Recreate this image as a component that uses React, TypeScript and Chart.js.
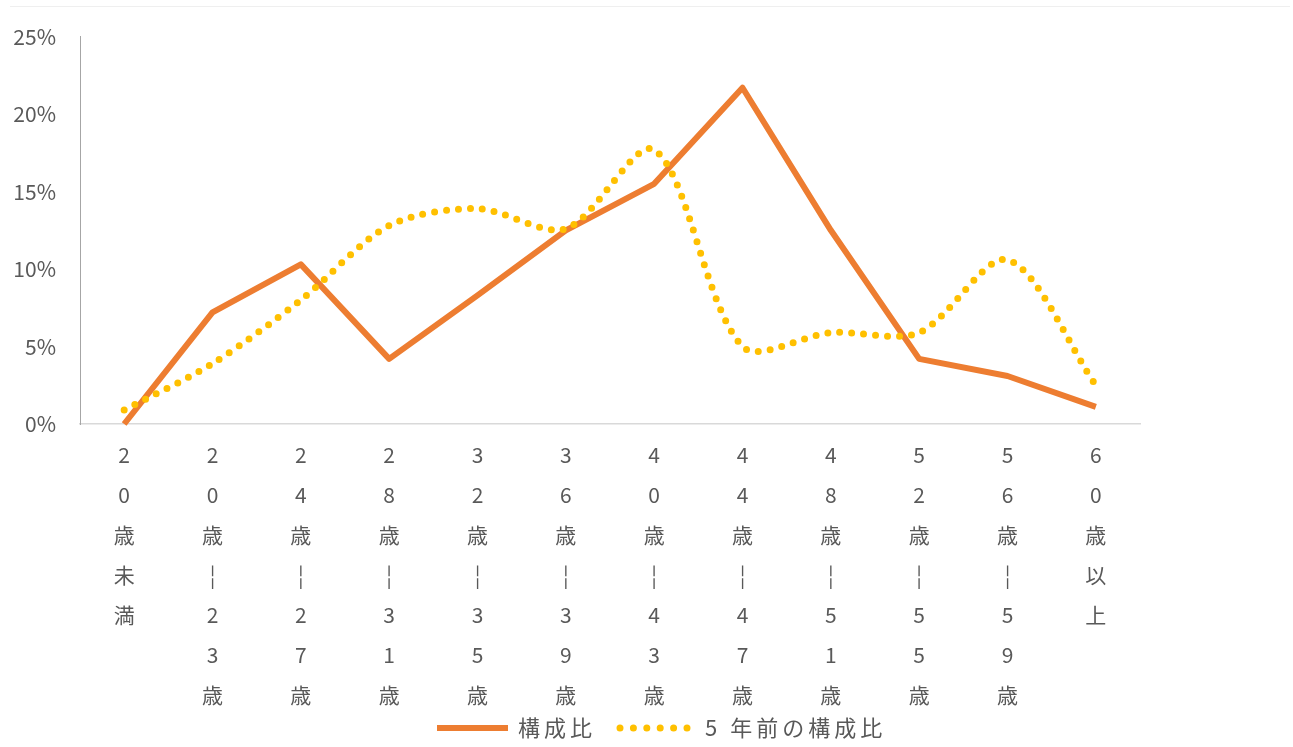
import React, { useEffect, useRef } from 'react';
import { Chart, registerables } from 'chart.js';

Chart.register(...registerables);

// ---- data ----
const categories = [
  '20歳未満', '20歳-23歳', '24歳-27歳', '28歳-31歳', '32歳-35歳', '36歳-39歳',
  '40歳-43歳', '44歳-47歳', '48歳-51歳', '52歳-55歳', '56歳-59歳', '60歳以上',
];
const currentShare = [0, 7.2, 10.3, 4.2, 8.3, 12.5, 15.5, 21.7, 12.5, 4.2, 3.1, 1.1];
const fiveYearsAgoShare = [0.9, 3.9, 8.0, 12.8, 13.9, 12.6, 17.7, 5.0, 5.9, 5.9, 10.6, 2.5];
const yTickValues = [0, 5, 10, 15, 20, 25];
const seriesNames = ['構成比', '5 年前の構成比'];

const ORANGE = '#ED7D31';
const YELLOW = '#FFC000';
const TEXT = '#595959';
const FONT = '"Noto Sans CJK JP", "Noto Sans", sans-serif';

// vertical (stacked) labels: one character per line, hyphen shown as broken bar
const verticalLabels = categories.map((c) => Array.from(c.replace('-', '¦')));

const framePlugin = {
  id: 'frame',
  beforeDraw(chart: any) {
    const ctx = chart.ctx;
    ctx.save();
    ctx.strokeStyle = '#EFEFEF';
    ctx.lineWidth = 1;
    ctx.beginPath();
    ctx.moveTo(10, 6.5);
    ctx.lineTo(chart.width - 3, 6.5);
    ctx.stroke();
    ctx.restore();
  },
};

const legendPlugin = {
  id: 'bottomLegend',
  afterDraw(chart: any) {
    const ctx = chart.ctx;
    ctx.save();
    const y = 728;
    ctx.font = `22px ${FONT}`;
    (ctx as any).letterSpacing = '4px';
    ctx.fillStyle = TEXT;
    ctx.textBaseline = 'middle';
    ctx.textAlign = 'left';

    // series 1: solid orange line
    ctx.strokeStyle = ORANGE;
    ctx.lineWidth = 6;
    ctx.lineCap = 'butt';
    ctx.setLineDash([]);
    ctx.beginPath();
    ctx.moveTo(437, y);
    ctx.lineTo(508, y);
    ctx.stroke();
    ctx.fillText(seriesNames[0], 518, y);

    // series 2: yellow round-dotted line
    ctx.strokeStyle = YELLOW;
    ctx.lineWidth = 7;
    ctx.lineCap = 'round';
    ctx.setLineDash([0, 13.4]);
    ctx.beginPath();
    ctx.moveTo(620, y);
    ctx.lineTo(688, y);
    ctx.stroke();
    ctx.setLineDash([]);
    ctx.fillText(seriesNames[1], 705, y);
    ctx.restore();
  },
};

export default function App() {
  const canvasRef = useRef<HTMLCanvasElement | null>(null);

  useEffect(() => {
    if (!canvasRef.current) return;
    const chart = new Chart(canvasRef.current, {
      type: 'line',
      data: {
        labels: verticalLabels as any,
        datasets: [
          {
            label: seriesNames[0],
            data: currentShare,
            borderColor: ORANGE,
            backgroundColor: ORANGE,
            borderWidth: 6,
            pointRadius: 0,
            tension: 0,
            borderJoinStyle: 'round',
            order: 2,
            clip: false as any,
          },
          {
            label: seriesNames[1],
            data: fiveYearsAgoShare,
            borderColor: YELLOW,
            backgroundColor: YELLOW,
            borderWidth: 7,
            borderDash: [0, 12],
            borderCapStyle: 'round',
            pointRadius: 0,
            tension: 0.3,
            order: 1,
            clip: false as any,
          },
        ],
      },
      options: {
        responsive: false,
        animation: false,
        maintainAspectRatio: false,
        layout: { padding: { top: 36, right: 153, bottom: 32, left: 0 } },
        plugins: {
          legend: { display: false },
          tooltip: { enabled: false },
          title: { display: false },
        },
        scales: {
          x: {
            offset: true,
            grid: { display: false, drawTicks: false },
            border: { display: true, color: '#D9D9D9', width: 1.5 },
            ticks: {
              color: TEXT,
              font: { family: FONT, size: 21, lineHeight: '40px' as any },
              padding: 11,
              maxRotation: 0,
              minRotation: 0,
              autoSkip: false,
            },
            afterFit(scale: any) {
              scale.height = 747 - 424 - 32;
            },
          },
          y: {
            min: 0,
            max: 25,
            afterBuildTicks(scale: any) {
              scale.ticks = yTickValues.map((v) => ({ value: v }));
            },
            grid: { display: false, drawTicks: false },
            border: { display: true, color: '#A6A6A6', width: 1 },
            ticks: {
              color: TEXT,
              font: { family: FONT, size: 21 },
              padding: 24,
              callback: (v: any) => `${v}%`,
            },
            afterFit(scale: any) {
              scale.width = 80;
            },
          },
        },
      },
      plugins: [framePlugin, legendPlugin],
    });
    return () => chart.destroy();
  }, []);

  return (
    <div style={{ position: 'absolute', left: 0, top: 0, width: 1293, height: 747, background: '#fff' }}>
      <canvas ref={canvasRef} width={1293} height={747} style={{ display: 'block' }} />
    </div>
  );
}
